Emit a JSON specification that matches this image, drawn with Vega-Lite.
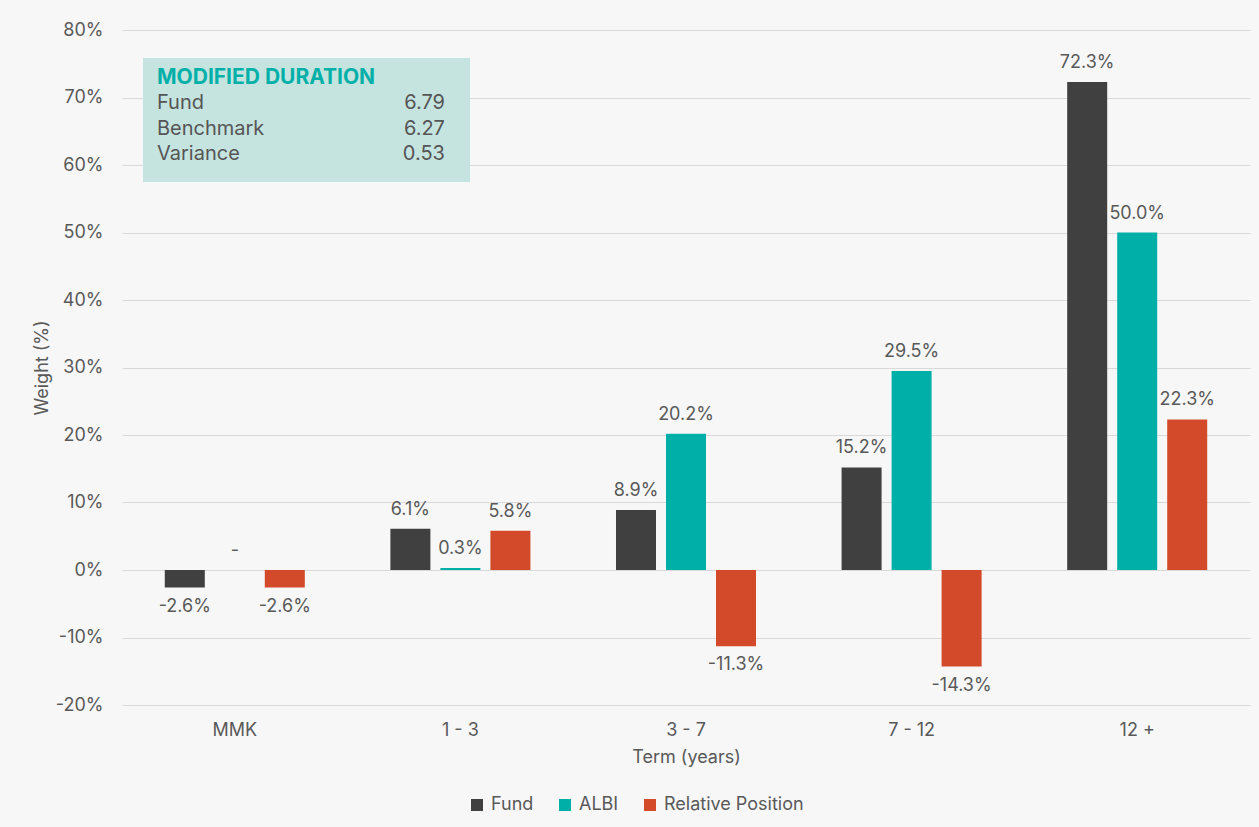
{
  "$schema": "https://vega.github.io/schema/vega-lite/v6.json",
  "width": 1128,
  "height": 675,
  "autosize": {"type": "none"},
  "padding": {"left": 122, "top": 30, "right": 9, "bottom": 122},
  "background": "#f7f7f7",
  "config": {
    "font": "Inter",
    "view": {"stroke": null},
    "text": {"font": "Inter"}
  },
  "datasets": {
    "weights": [
      {"term": "MMK", "series": "Fund", "weight": -0.026},
      {"term": "MMK", "series": "ALBI", "weight": 0},
      {"term": "MMK", "series": "Relative Position", "weight": -0.026},
      {"term": "1 - 3", "series": "Fund", "weight": 0.061},
      {"term": "1 - 3", "series": "ALBI", "weight": 0.003},
      {"term": "1 - 3", "series": "Relative Position", "weight": 0.058},
      {"term": "3 - 7", "series": "Fund", "weight": 0.089},
      {"term": "3 - 7", "series": "ALBI", "weight": 0.202},
      {"term": "3 - 7", "series": "Relative Position", "weight": -0.113},
      {"term": "7 - 12", "series": "Fund", "weight": 0.152},
      {"term": "7 - 12", "series": "ALBI", "weight": 0.295},
      {"term": "7 - 12", "series": "Relative Position", "weight": -0.143},
      {"term": "12 +", "series": "Fund", "weight": 0.723},
      {"term": "12 +", "series": "ALBI", "weight": 0.5},
      {"term": "12 +", "series": "Relative Position", "weight": 0.223}
    ],
    "duration": [
      {"measure": "Fund", "value": 6.79},
      {"measure": "Benchmark", "value": 6.27},
      {"measure": "Variance", "value": 0.53}
    ]
  },
  "resolve": {"scale": {"x": "independent", "y": "independent"}},
  "layer": [
    {
      "data": {"name": "weights"},
      "transform": [
        {"calculate": "datum.weight === 0 ? '-' : replace(format(datum.weight, '.1%'), '\u2212', '-')", "as": "label"}
      ],
      "encoding": {
        "x": {
          "field": "term",
          "type": "nominal",
          "sort": ["MMK", "1 - 3", "3 - 7", "7 - 12", "12 +"],
          "scale": {"paddingInner": 0.335, "paddingOuter": 0.1675},
          "axis": {
            "title": "Term (years)",
            "labelAngle": 0,
            "domain": false,
            "ticks": false,
            "labelPadding": 16,
            "labelFontSize": 18,
            "labelColor": "#595959",
            "titleFontSize": 18,
            "titleFontWeight": "normal",
            "titleColor": "#595959",
            "titlePadding": 9
          }
        },
        "xOffset": {
          "field": "series",
          "sort": ["Fund", "ALBI", "Relative Position"],
          "scale": {"paddingInner": 0.2, "paddingOuter": 0.1}
        },
        "y": {
          "field": "weight",
          "type": "quantitative",
          "scale": {"domain": [-0.2, 0.8], "nice": false, "zero": false},
          "axis": {
            "title": "Weight (%)",
            "format": ".0%",
            "labelExpr": "replace(datum.label, '\u2212', '-')",
            "values": [-0.2, -0.1, 0, 0.1, 0.2, 0.3, 0.4, 0.5, 0.6, 0.7, 0.8],
            "grid": true,
            "gridColor": "#d9d9d9",
            "gridWidth": 1,
            "domain": false,
            "ticks": false,
            "labelPadding": 19,
            "labelFontSize": 18,
            "labelColor": "#595959",
            "titleFontSize": 18,
            "titleFontWeight": "normal",
            "titleColor": "#595959",
            "titlePadding": 4
          }
        }
      },
      "layer": [
        {
          "mark": {"type": "bar"},
          "encoding": {
            "color": {
              "field": "series",
              "type": "nominal",
              "scale": {
                "domain": ["Fund", "ALBI", "Relative Position"],
                "range": ["#404040", "#00b0a8", "#d24a2a"]
              },
              "legend": {
                "title": null,
                "orient": "none",
                "legendX": 346,
                "legendY": 766,
                "direction": "horizontal",
                "symbolType": "square",
                "symbolSize": 144,
                "symbolStrokeWidth": 0,
                "labelFontSize": 18,
                "labelColor": "#595959",
                "labelOffset": 5,
                "columnPadding": 22
              }
            }
          }
        },
        {
          "transform": [{"filter": "datum.weight >= 0"}],
          "mark": {"type": "text", "dy": -19, "fontSize": 18, "color": "#595959", "baseline": "middle"},
          "encoding": {"text": {"field": "label"}}
        },
        {
          "transform": [{"filter": "datum.weight < 0"}],
          "mark": {"type": "text", "dy": 19, "fontSize": 18, "color": "#595959", "baseline": "middle"},
          "encoding": {"text": {"field": "label"}}
        }
      ]
    },
    {
      "data": {"values": [{}]},
      "mark": {"type": "rect", "color": "#c5e4e0"},
      "encoding": {
        "x": {"datum": 0.0186, "type": "quantitative", "scale": {"domain": [0, 1], "nice": false}, "axis": null},
        "x2": {"datum": 0.3085},
        "y": {"datum": 0.7585, "type": "quantitative", "scale": {"domain": [-0.2, 0.8], "nice": false, "zero": false}, "axis": null},
        "y2": {"datum": 0.575}
      }
    },
    {
      "data": {"values": [{}]},
      "mark": {"type": "text", "text": "MODIFIED DURATION", "align": "left", "baseline": "middle", "fontWeight": "bold", "fontSize": 21, "color": "#00b0a8"},
      "encoding": {
        "x": {"datum": 0.031, "type": "quantitative", "scale": {"domain": [0, 1], "nice": false}, "axis": null},
        "y": {"datum": 0.729, "type": "quantitative", "scale": {"domain": [-0.2, 0.8], "nice": false, "zero": false}, "axis": null}
      }
    },
    {
      "data": {"name": "duration"},
      "encoding": {
        "y": {
          "field": "measure",
          "type": "ordinal",
          "sort": ["Fund", "Benchmark", "Variance"],
          "scale": {"type": "point", "range": [73, 124], "padding": 0},
          "axis": null
        }
      },
      "layer": [
        {
          "mark": {"type": "text", "align": "left", "baseline": "middle", "fontSize": 20, "color": "#555555"},
          "encoding": {
            "x": {"datum": 0.031, "type": "quantitative", "scale": {"domain": [0, 1], "nice": false}, "axis": null},
            "text": {"field": "measure"}
          }
        },
        {
          "mark": {"type": "text", "align": "right", "baseline": "middle", "fontSize": 20, "color": "#555555"},
          "encoding": {
            "x": {"datum": 0.2863, "type": "quantitative", "scale": {"domain": [0, 1], "nice": false}, "axis": null},
            "text": {"field": "value", "type": "quantitative", "format": ".2f"}
          }
        }
      ]
    }
  ]
}
